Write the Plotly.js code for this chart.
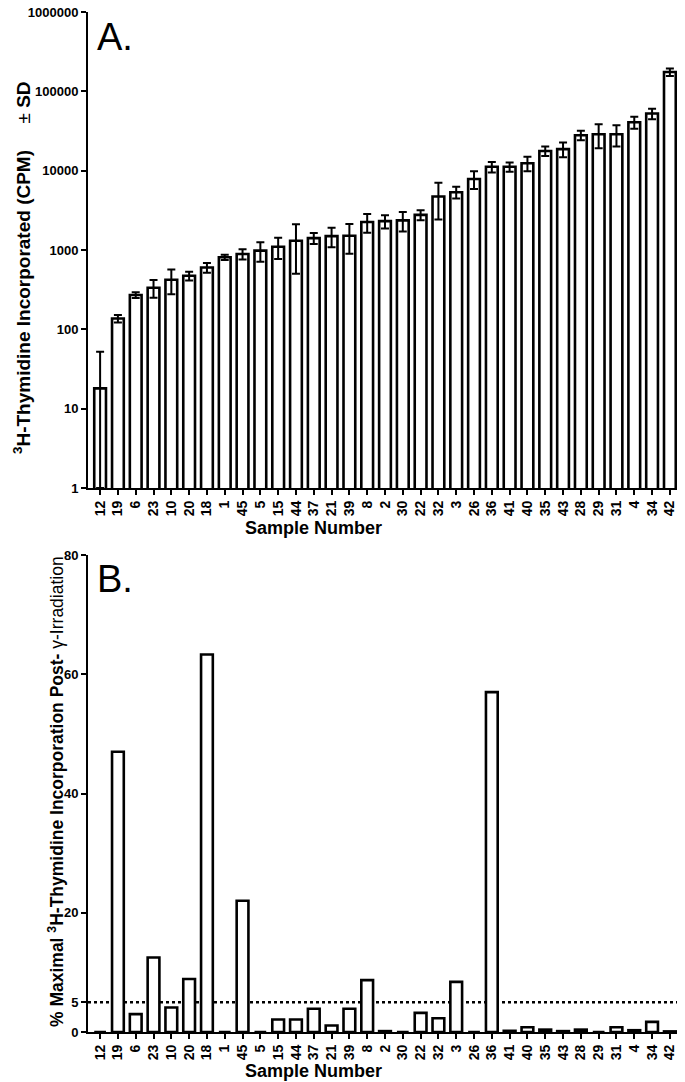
<!DOCTYPE html>
<html>
<head>
<meta charset="utf-8">
<script src="https://cdn.plot.ly/plotly-3.0.1.min.js"></script>
<style>html,body{margin:0;padding:0;background:#fff;}#chart{width:685px;height:1082px;}</style>
</head>
<body>
<div id="chart"></div>
<script>
// Sample order (same in both panels)
const samples = ['12','19','6','23','10','20','18','1','45','5','15','44','37','21','39','8','2','30','22','32','3','26','36','41','40','35','43','28','29','31','4','34','42'];
// Panel A: 3H-thymidine incorporated (CPM)
const cpm = [18, 137, 271, 335, 422, 473, 601, 810, 891, 981, 1101, 1308, 1413, 1496, 1510, 2250, 2310, 2360, 2770, 4720, 5350, 7860, 11200, 11200, 12400, 17700, 18700, 28000, 28800, 28800, 40800, 52500, 175000];
// Panel A: standard deviations
const cpmSD = [34, 15, 22, 85, 145, 60, 85, 60, 130, 270, 330, 805, 220, 410, 615, 600, 440, 650, 400, 2300, 900, 2000, 1700, 1500, 2600, 2400, 3900, 3900, 9700, 8700, 7000, 8000, 19000];
// Panel B: % maximal incorporation post gamma-irradiation
const pctMax = [0, 47, 3.0, 12.5, 4.1, 8.9, 63.3, 0, 22, 0, 2.1, 2.1, 3.9, 1.1, 3.9, 8.7, 0.15, 0, 3.2, 2.3, 8.4, 0, 57, 0.2, 0.8, 0.4, 0.15, 0.4, 0, 0.8, 0.3, 1.7, 0.1];
const threshold = 5;
const yTicksA = [1, 10, 100, 1000, 10000, 100000, 1000000];
const yTicksB = [0, 5, 20, 40, 60, 80];

const W = 685, H = 1082;
const plotL = 88, plotR = 677;
const pxX = px => (px - plotL) / (plotR - plotL);
const pxY = py => 1 - py / H;

const cpmMinus = cpm.map((v, i) => Math.min(cpmSD[i], v - 1));

const barStyle = {color: '#ffffff', line: {color: '#000000', width: 2.6}};
const FONT = 'Liberation Sans, Arial, sans-serif';

const traceA = {
  type: 'bar', x: samples, y: cpm, xaxis: 'x', yaxis: 'y',
  width: 0.66, marker: barStyle,
  error_y: {type: 'data', array: cpmSD, arrayminus: cpmMinus, symmetric: false, visible: true, color: '#000', thickness: 2, width: 4},
  hoverinfo: 'x+y'
};
const traceB = {
  type: 'bar', x: samples, y: pctMax, xaxis: 'x2', yaxis: 'y2',
  width: 0.66, marker: barStyle, hoverinfo: 'x+y'
};

const tickFont = {family: FONT, size: 13, color: '#000', weight: 'bold'};
const xCommon = {
  type: 'category', range: [-0.68, 32.4], showline: true, linecolor: '#000', linewidth: 2,
  ticks: 'outside', ticklen: 5, tickwidth: 2, tickcolor: '#000', tickangle: -90,
  tickfont: {family: FONT, size: 14, color: '#000', weight: 'bold'},
  showgrid: false, zeroline: false, fixedrange: true, automargin: false
};
const yCommon = {
  showline: true, linecolor: '#000', linewidth: 2, ticks: 'outside', ticklen: 5, tickwidth: 2, tickcolor: '#000',
  tickfont: tickFont, showgrid: false, zeroline: false, fixedrange: true, automargin: false
};

const layout = {
  width: W, height: H,
  margin: {l: plotL, r: W - plotR, t: 0, b: 0},
  paper_bgcolor: '#fff', plot_bgcolor: '#fff',
  showlegend: false, bargap: 0.3,
  font: {family: FONT, color: '#000'},
  xaxis: Object.assign({}, xCommon, {domain: [0, 1], anchor: 'y'}),
  yaxis: Object.assign({}, yCommon, {type: 'log', range: [0, 6], domain: [pxY(488), pxY(12)], anchor: 'x',
    tickvals: yTicksA, ticktext: yTicksA.map(String)}),
  xaxis2: Object.assign({}, xCommon, {domain: [0, 1], anchor: 'y2'}),
  yaxis2: Object.assign({}, yCommon, {range: [0, 80], domain: [pxY(1032), pxY(555)], anchor: 'x2',
    tickvals: yTicksB, ticktext: yTicksB.map(String)}),
  shapes: [{
    type: 'line', xref: 'x2 domain', yref: 'y2', x0: 0, x1: 1, y0: threshold, y1: threshold,
    line: {color: '#000', width: 2.5, dash: 'dot'}, layer: 'below'
  }],
  annotations: [
    {text: 'A.', xref: 'paper', yref: 'paper', x: pxX(95), y: pxY(14), xanchor: 'left', yanchor: 'top', showarrow: false,
     font: {family: FONT, size: 38, color: '#000'}},
    {text: 'B.', xref: 'paper', yref: 'paper', x: pxX(95), y: pxY(556), xanchor: 'left', yanchor: 'top', showarrow: false,
     font: {family: FONT, size: 38, color: '#000'}},
    {text: '<b>Sample Number</b>', xref: 'paper', yref: 'paper', x: pxX(313), y: pxY(528), xanchor: 'center', yanchor: 'middle', showarrow: false,
     font: {family: FONT, size: 18, color: '#000'}},
    {text: '<b>Sample Number</b>', xref: 'paper', yref: 'paper', x: pxX(313), y: pxY(1071), xanchor: 'center', yanchor: 'middle', showarrow: false,
     font: {family: FONT, size: 18, color: '#000'}},
    {text: '<b><sup>3</sup>H-Thymidine Incorporated (CPM)</b>&nbsp;&nbsp;&nbsp;&nbsp;&nbsp;± <b>SD</b>', textangle: -90, xref: 'paper', yref: 'paper',
     x: pxX(22), y: pxY(268), xanchor: 'center', yanchor: 'middle', showarrow: false,
     font: {family: FONT, size: 19, color: '#000'}},
    {text: '<b>% Maximal <sup>3</sup>H-Thymidine Incorporation Post-</b> γ-Irradiation', textangle: -90, xref: 'paper', yref: 'paper',
     x: pxX(56), y: pxY(792), xanchor: 'center', yanchor: 'middle', showarrow: false,
     font: {family: FONT, size: 17.5, color: '#000'}}
  ]
};

Plotly.newPlot('chart', [traceA, traceB], layout, {displayModeBar: false, staticPlot: true});
</script>
</body>
</html>
